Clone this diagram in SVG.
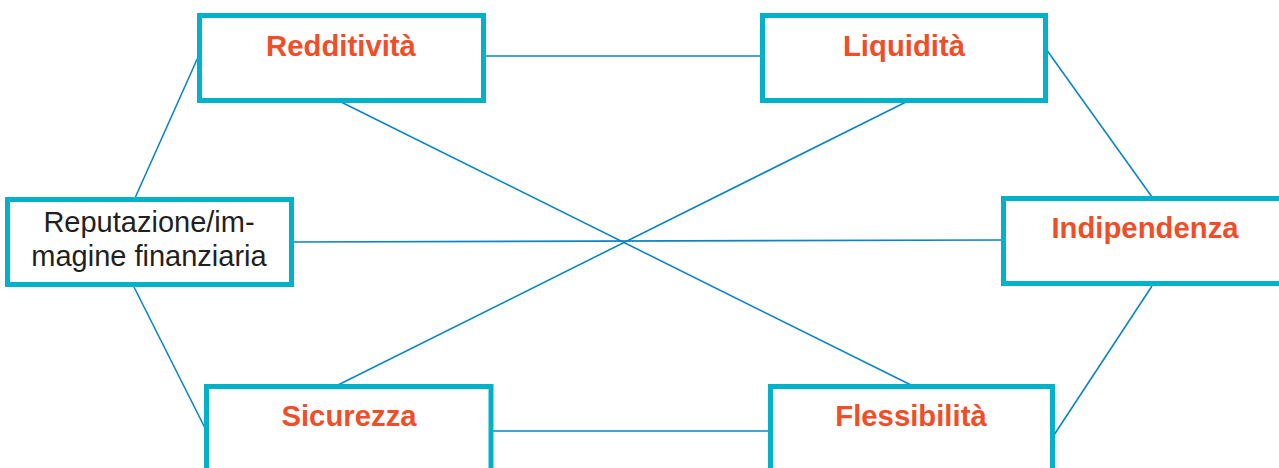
<svg xmlns="http://www.w3.org/2000/svg" width="1279" height="468" viewBox="0 0 1279 468">
<style>
.box{fill:#fff;stroke:#00b2c9;stroke-width:5}
.lbl{font-family:"Liberation Sans",Arial,sans-serif;font-weight:bold;font-size:29.3px;fill:#f04e29;text-anchor:middle}
.lbl2{font-family:"Liberation Sans",Arial,sans-serif;font-size:29px;fill:#231f20;text-anchor:middle}
.conn line{stroke:#0a85c6;stroke-width:1.6;fill:none}
</style>
<rect width="1279" height="468" fill="#fff"/>
<g id="connectors" class="conn">
<line x1="486" y1="56" x2="760" y2="56"/>
<line x1="135" y1="198" x2="199" y2="55"/>
<line x1="134" y1="287" x2="207" y2="432"/>
<line x1="292" y1="242" x2="1001" y2="240"/>
<line x1="341" y1="102" x2="913" y2="386"/>
<line x1="908" y1="101" x2="336" y2="386"/>
<line x1="1046" y1="49" x2="1152" y2="197"/>
<line x1="1152" y1="286" x2="1054" y2="435"/>
<line x1="493" y1="431" x2="768" y2="431"/>
</g>
<g id="redditivita">
<rect class="box" x="199.5" y="15.5" width="284" height="85"/>
<text class="lbl" x="341" y="55.5">Redditività</text>
</g>
<g id="liquidita">
<rect class="box" x="762.5" y="15.5" width="283" height="85"/>
<text class="lbl" x="904" y="56">Liquidità</text>
</g>
<g id="reputazione">
<rect class="box" x="7.5" y="199.5" width="284" height="85"/>
<text class="lbl2" x="149" y="232">Reputazione/im-</text>
<text class="lbl2" x="149" y="266">magine finanziaria</text>
</g>
<g id="indipendenza">
<rect class="box" x="1003.5" y="198.5" width="290" height="85"/>
<text class="lbl" x="1145" y="238">Indipendenza</text>
</g>
<g id="sicurezza">
<rect class="box" x="206.5" y="386.5" width="284.5" height="100"/>
<text class="lbl" x="349" y="426">Sicurezza</text>
</g>
<g id="flessibilita">
<rect class="box" x="770.5" y="386.5" width="282" height="100"/>
<text class="lbl" x="911" y="426">Flessibilità</text>
</g>
</svg>
